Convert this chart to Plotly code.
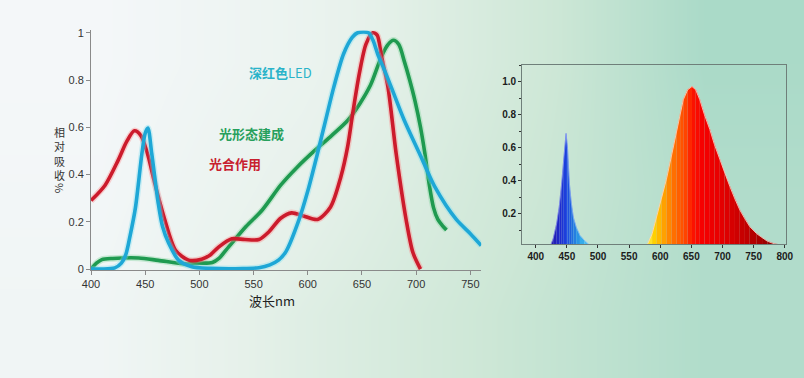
import plotly.graph_objects as go

# ---------------- Left panel: relative absorption curves ----------------
wl_photo = [400, 413, 425, 433, 440, 446, 452, 459, 468, 478, 490, 502, 510, 518, 530, 542,
            555, 564, 575, 585, 596, 609, 621, 630.5, 636.7, 641.4, 647.5, 653.7, 660, 664,
            668, 674, 681.5, 690.7, 697, 704]
abs_photo = [0.29, 0.355, 0.46, 0.54, 0.585, 0.565, 0.49, 0.36, 0.21, 0.08, 0.038, 0.042, 0.06,
             0.094, 0.128, 0.125, 0.125, 0.157, 0.215, 0.238, 0.225, 0.21, 0.263, 0.39, 0.516,
             0.657, 0.826, 0.952, 1.0, 0.99, 0.9, 0.77, 0.49, 0.21, 0.07, 0.0]

wl_morph = [400, 405, 410, 420, 444, 462, 487, 500, 512, 518, 527, 543, 558, 575, 590, 606, 622,
            637, 648, 658, 668, 674, 679, 684, 689, 694, 699, 704, 708, 712, 716, 720, 724, 728]
abs_morph = [0.0, 0.025, 0.04, 0.045, 0.047, 0.037, 0.022, 0.025, 0.028, 0.045, 0.094, 0.18,
             0.25, 0.355, 0.43, 0.5, 0.565, 0.63, 0.7, 0.78, 0.9, 0.95, 0.968, 0.95, 0.88, 0.8,
             0.71, 0.6, 0.49, 0.36, 0.26, 0.21, 0.185, 0.165]

wl_led = [400, 410, 422, 428, 432, 436, 441, 447, 450, 452.5, 456, 462, 466, 471.6, 480.8, 493,
          510, 540, 555, 565, 573, 580, 592, 600, 609, 617, 624, 633, 641, 646, 656, 660, 664.5,
          670, 677, 689, 703, 717, 737, 750, 760]
abs_led = [0.0, 0.0, 0.005, 0.025, 0.06, 0.14, 0.26, 0.49, 0.575, 0.597, 0.49, 0.28, 0.18, 0.11,
           0.038, 0.01, 0.003, 0.002, 0.006, 0.018, 0.038, 0.075, 0.21, 0.33, 0.49, 0.64, 0.77,
           0.91, 0.98, 1.0, 1.0, 0.97, 0.91, 0.85, 0.77, 0.63, 0.49, 0.35, 0.21, 0.15, 0.10]

left_xticks = [400, 450, 500, 550, 600, 650, 700, 750]
left_yticks = [0, 0.2, 0.4, 0.6, 0.8, 1]
left_yticklabels = ["0", "0.2", "0.4", "0.6", "0.8", "1"]

# ---------------- Right panel: LED emission spectrum ----------------
wl_blue = [423, 428, 433.7, 438, 441.7, 445, 448.7, 451, 454, 457, 460.4, 465, 471, 478, 484.5, 490]
em_blue = [0.0, 0.05, 0.143, 0.25, 0.386, 0.53, 0.686, 0.6, 0.386, 0.27, 0.18, 0.12, 0.07, 0.04,
           0.018, 0.0]
wl_red = [575, 580, 587, 594, 602, 610, 618, 626, 632, 637, 644, 651, 657, 663.6, 671, 679.7, 687,
          695.7, 703, 711.8, 720, 727.8, 736, 743.8, 755, 765, 772, 781, 794.6, 800]
em_red = [0.0, 0.02, 0.08, 0.18, 0.29, 0.41, 0.55, 0.69, 0.8, 0.89, 0.95, 0.97, 0.95, 0.89, 0.8,
          0.71, 0.62, 0.53, 0.45, 0.366, 0.29, 0.224, 0.17, 0.123, 0.08, 0.052, 0.035, 0.022,
          0.01, 0.005]

right_xticks = [400, 450, 500, 550, 600, 650, 700, 750, 800]
right_yticks = [0.2, 0.4, 0.6, 0.8, 1.0]
right_yticklabels = ["0.2", "0.4", "0.6", "0.8", "1.0"]

# colour stops for the spectral fill (style)
blue_stops = [(423, "#2616a6"), (440, "#1e2ccf"), (450, "#1c46e0"), (460, "#2274df"),
              (472, "#2ea6e8"), (490, "#62d2f8")]
red_stops = [(575, "#fff65a"), (590, "#ffd200"), (605, "#ffa400"), (620, "#ff7400"),
             (640, "#ff4600"), (652, "#fc1400"), (668, "#f60000"), (700, "#e40000"),
             (740, "#c00000"), (770, "#9a0000"), (800, "#780000")]


def hex2rgb(h):
    h = h.lstrip("#")
    return tuple(int(h[i:i + 2], 16) for i in (0, 2, 4))


def color_at(w, stops):
    if w <= stops[0][0]:
        return stops[0][1]
    for (w0, c0), (w1, c1) in zip(stops[:-1], stops[1:]):
        if w0 <= w <= w1:
            t = (w - w0) / (w1 - w0)
            a, b = hex2rgb(c0), hex2rgb(c1)
            r = [round(a[k] + (b[k] - a[k]) * t) for k in range(3)]
            return "rgb(%d,%d,%d)" % tuple(r)
    return stops[-1][1]


fig = go.Figure()

# ---- background gradient (paper-wide heatmap on hidden axes) ----
bg_x = [0, 1 / 3, 2 / 3, 1]
bg_y = [0, 0.5, 1]
bg_z = [[0.10, 0.45, 0.72, 0.93],
        [0.04, 0.33, 0.66, 0.93],
        [0.00, 0.22, 0.60, 0.98]]
fig.add_trace(go.Heatmap(x=bg_x, y=bg_y, z=bg_z, zsmooth="best", showscale=False,
                         hoverinfo="skip", zmin=0, zmax=1,
                         colorscale=[[0, "#f4f7f9"], [0.35, "#e6f1ea"], [0.7, "#cde7d6"],
                                     [1, "#a8d9c7"]],
                         xaxis="x", yaxis="y"))

# ---- left panel curves ----
curves = [
    (wl_morph, abs_morph, "#1f9a50", "rgba(120,210,150,0.35)", "光形态建成"),
    (wl_photo, abs_photo, "#cc1b2c", "rgba(255,130,130,0.35)", "光合作用"),
    (wl_led, abs_led, "#1ea7d6", "rgba(120,220,240,0.35)", "深红色LED"),
]
for xs, ys, col, halo, name in curves:
    fig.add_trace(go.Scatter(x=xs, y=ys, mode="lines", xaxis="x2", yaxis="y2",
                             line=dict(color=halo, width=6.5, shape="spline", smoothing=0.8),
                             hoverinfo="skip", showlegend=False))
    fig.add_trace(go.Scatter(x=xs, y=ys, mode="lines", xaxis="x2", yaxis="y2", name=name,
                             line=dict(color=col, width=3.6, shape="spline", smoothing=0.8),
                             showlegend=False))

# ---- right panel spectrum fill ----
for xs, ys, stops in [(wl_blue, em_blue, blue_stops), (wl_red, em_red, red_stops)]:
    for i in range(len(xs) - 1):
        c = color_at((xs[i] + xs[i + 1]) / 2, stops)
        fig.add_trace(go.Scatter(x=[xs[i], xs[i + 1]], y=[ys[i], ys[i + 1]], mode="lines",
                                 fill="tozeroy", fillcolor=c, line=dict(color=c, width=0.6),
                                 xaxis="x3", yaxis="y3", hoverinfo="skip", showlegend=False))
fig.add_trace(go.Scatter(x=wl_red, y=em_red, mode="lines", xaxis="x3", yaxis="y3",
                         line=dict(color="rgba(255,215,200,0.8)", width=1),
                         hoverinfo="skip", showlegend=False))
fig.add_trace(go.Scatter(x=wl_blue, y=em_blue, mode="lines", xaxis="x3", yaxis="y3",
                         line=dict(color="rgba(190,200,255,0.6)", width=0.8),
                         hoverinfo="skip", showlegend=False))

tickfont_l = dict(family="Liberation Sans, Arial, sans-serif", size=11, color="#333333")
tickfont_r = dict(family="Liberation Sans, Arial, sans-serif", size=10, color="#1c1c1c",
                  weight="bold")
cjk = "Noto Sans CJK SC, sans-serif"

fig.update_layout(
    template="none",
    width=804, height=378,
    margin=dict(l=0, r=0, t=0, b=0, autoexpand=False),
    paper_bgcolor="#e4efe9",
    plot_bgcolor="rgba(0,0,0,0)",
    showlegend=False,
    xaxis=dict(domain=[0, 1], range=[-1 / 6, 7 / 6], visible=False, fixedrange=True,
               automargin=False),
    yaxis=dict(domain=[0, 1], range=[-0.25, 1.25], visible=False, fixedrange=True,
               automargin=False),
    xaxis2=dict(domain=[0.1132, 0.5985], range=[400, 760], anchor="y2", automargin=False,
                tickvals=left_xticks, ticks="outside", ticklen=4, tickcolor="#8a8a8a",
                showline=True, linecolor="#8a8a8a", linewidth=1, showgrid=False,
                zeroline=False, tickfont=tickfont_l),
    yaxis2=dict(domain=[0.2856, 0.9196], range=[-0.004, 1.01], anchor="x2", automargin=False,
                tickvals=left_yticks, ticktext=left_yticklabels, ticks="outside", ticklen=4,
                tickcolor="#8a8a8a", showline=True, linecolor="#8a8a8a", linewidth=1,
                showgrid=False, zeroline=False, tickfont=tickfont_l),
    xaxis3=dict(domain=[0.6493, 0.9776], range=[378, 802], anchor="y3", automargin=False,
                tickvals=right_xticks, ticks="outside", ticklen=3, tickcolor="#333333",
                showline=True, linecolor="#6f7f7a", linewidth=1, mirror=True,
                showgrid=False, zeroline=False, tickfont=tickfont_r),
    yaxis3=dict(domain=[0.3545, 0.828], range=[0.018, 1.1], anchor="x3", automargin=False,
                tickvals=right_yticks, ticktext=right_yticklabels, ticks="outside", ticklen=3,
                tickcolor="#333333", minor=dict(dtick=0.1, tick0=0, ticks="outside",
                                                ticklen=2, tickcolor="#333333"),
                showline=True, linecolor="#6f7f7a", linewidth=1, mirror=True,
                showgrid=False, zeroline=False, tickfont=tickfont_r),
    shapes=[dict(type="rect", xref="x3 domain", yref="y3 domain", x0=0, x1=1, y0=0, y1=1,
                 fillcolor="#c6dfd4", line=dict(width=0), layer="below")],
)

annotations = [
    dict(text="<b>深红色</b>LED", x=575, y=0.83, xref="x2", yref="y2", showarrow=False,
         xanchor="center", yanchor="middle",
         font=dict(family=cjk, size=13, color="#2ab3c9")),
    dict(text="<b>光形态建成</b>", x=548, y=0.574, xref="x2", yref="y2", showarrow=False,
         xanchor="center", yanchor="middle",
         font=dict(family=cjk, size=13, color="#27a05c")),
    dict(text="<b>光合作用</b>", x=533, y=0.447, xref="x2", yref="y2", showarrow=False,
         xanchor="center", yanchor="middle",
         font=dict(family=cjk, size=13, color="#c8202e")),
    dict(text="波长nm", x=272 / 804, y=1 - 300 / 378, xref="paper", yref="paper",
         showarrow=False, xanchor="center", yanchor="middle",
         font=dict(family=cjk, size=13, color="#222222")),
    # vertical, stacked y-axis title
    dict(text="相<br>对<br>吸<br>收", x=60 / 804, y=1 - 122 / 378, xref="paper", yref="paper",
         showarrow=False, xanchor="center", yanchor="top",
         font=dict(family=cjk, size=11, color="#333333")),
    dict(text="%", x=60 / 804, y=1 - 188 / 378, xref="paper", yref="paper",
         showarrow=False, xanchor="center", yanchor="middle", textangle=90,
         font=dict(family=cjk, size=11, color="#333333")),
]
fig.update_layout(annotations=annotations)

fig.write_html("out.html", config={"displayModeBar": False},
               post_script="document.body.style.margin='0';")
